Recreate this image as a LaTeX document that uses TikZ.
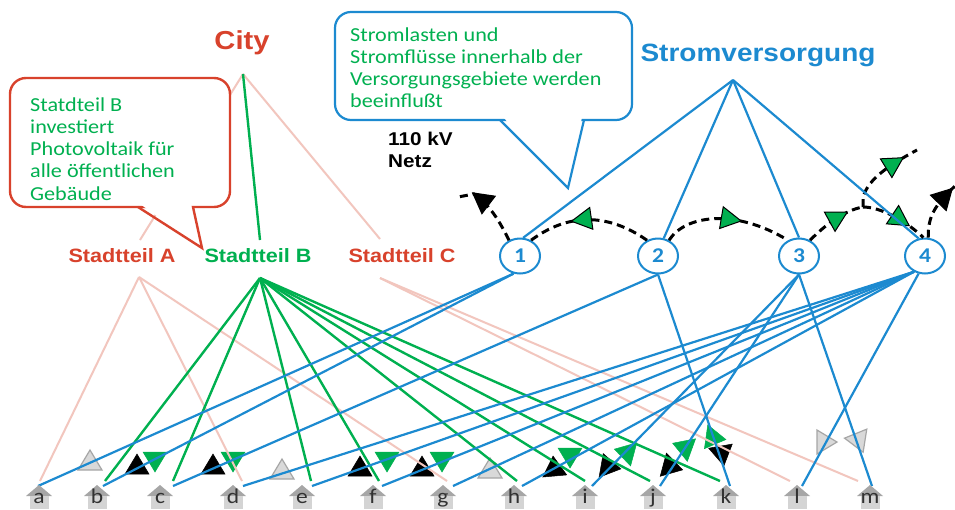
\documentclass[tikz,border=0pt]{standalone}
\usepackage{fontspec}
\setmainfont{Carlito}[FakeStretch=1.12]
\newfontfamily\headfont{Liberation Sans}[FakeStretch=1.12]
\usetikzlibrary{shapes.geometric, decorations.markings}

\definecolor{cityred}{RGB}{216,66,44}
\definecolor{pvgreen}{RGB}{0,176,80}
\definecolor{gridblue}{RGB}{28,138,208}
\definecolor{linkpink}{RGB}{242,198,190}
\definecolor{roofgrey}{RGB}{166,166,166}
\definecolor{bodygrey}{RGB}{212,212,212}
\definecolor{leafink}{RGB}{50,50,50}

% free-standing triangular flow marker: x, y, direction (deg), style
\newcommand\headmark[4]{\filldraw[#4, shift={(#1,#2)}, rotate=#3] (11pt,0pt) -- (-9pt,12pt) -- (-9pt,-12pt) -- cycle;}

\begin{document}
\begin{tikzpicture}[x=1pt, y=-1pt,
  pinkline/.style={linkpink, line width=2pt},
  greenline/.style={pvgreen, line width=2.4pt},
  blueline/.style={gridblue, line width=2.2pt},
  flow/.style={black, line width=3pt, dash pattern=on 8pt off 5pt},
  greenhead/.style={postaction={decorate}, decoration={markings,
      mark=at position #1 with {\filldraw[solid, fill=pvgreen, draw=black, line width=1pt, line join=miter]
        (5pt,0pt) -- (-15pt,11pt) -- (-15pt,-11pt) -- cycle;}}},
  blackhead/.style={postaction={decorate}, decoration={markings,
      mark=at position #1 with {\filldraw[solid, fill=black, draw=black, line width=1pt, line join=miter]
        (5pt,0pt) -- (-15pt,11pt) -- (-15pt,-11pt) -- cycle;}}},
  station/.style={ellipse, draw=gridblue, line width=2pt, fill=white,
      minimum width=40pt, minimum height=35pt, inner sep=0pt, text=gridblue,
      font=\fontsize{21}{21}\selectfont\bfseries},
  leaflabel/.style={font=\fontsize{21}{21}\selectfont, text=leafink, inner sep=0pt, anchor=base},
  headbig/.style={font=\headfont\bfseries\fontsize{26}{26}\selectfont, inner sep=0pt, anchor=base},
  headstrom/.style={font=\headfont\bfseries\fontsize{25}{25}\selectfont, inner sep=0pt, anchor=base},
  district/.style={font=\headfont\bfseries\fontsize{19.3}{20}\selectfont, inner sep=0pt, anchor=base},
  netlabel/.style={font=\headfont\bfseries\fontsize{18.5}{18.5}\selectfont, inner sep=0pt, anchor=base west},
  note/.style={font=\fontsize{19.8}{22.3}\selectfont, text=pvgreen, inner sep=0pt, anchor=base west},
  kfill/.style={fill=black, draw=black, line width=0.5pt},
  gfill/.style={fill=pvgreen, draw=pvgreen, line width=0.5pt},
  grfill/.style={fill=black!15, draw=black!35, line width=1.2pt}]

\useasboundingbox (0,0) rectangle (955,509);
\fill[white] (0,0) rectangle (955,509);

% ---- end points on the row of buildings
\foreach \n/\bx/\gx in {a/38/40, b/103/105, c/173/173, d/243/242, e/312/311,
    f/382/379, g/453/447, h/522/517, i/592/585, j/660/650, k/730/720,
    l/802/790, m/872/858}{
  \coordinate (\n-bl) at (\bx,486);
  \coordinate (\n-gr) at (\gx,481);
}

% ---- titles and districts
\node[headbig, text=cityred] (city) at (242,49) {City};
\node[headstrom, text=gridblue] (strom) at (758,61) {Stromversorgung};
\node[district, text=cityred] (sA) at (122,262) {Stadtteil A};
\node[district, text=pvgreen] (sB) at (258,262) {Stadtteil B};
\node[district, text=cityred] (sC) at (402,262) {Stadtteil C};
\node[netlabel] (net1) at (388,145) {110 kV};
\node[netlabel] (net2) at (388,167) {Netz};

\coordinate (cityT) at (243,74);
\coordinate (aTop) at (140,240);
\coordinate (aBot) at (139,277);
\coordinate (bTop) at (260,240);
\coordinate (bBot) at (260,278);
\coordinate (cTop) at (380,239);
\coordinate (cBot) at (380,278);
\coordinate (stromT) at (733,80);
\coordinate (jn) at (863,207);

% ---- substations
\node[station] (n1) at (520,256) {1};
\node[station] (n2) at (658,256) {2};
\node[station] (n3) at (799,256) {3};
\node[station] (n4) at (925,256) {4};

% ---- loose flow markers above the buildings
\headmark{90}{461}{90}{grfill}
\headmark{137}{465}{90}{kfill}
\headmark{155}{461}{-90}{gfill}
\headmark{213}{465}{90}{kfill}
\headmark{233}{461}{-90}{gfill}
\headmark{282}{470}{90}{grfill}
\headmark{360}{467}{90}{kfill}
\headmark{387}{461}{-90}{gfill}
\headmark{422}{467}{90}{kfill}
\headmark{442}{461}{-90}{gfill}
\headmark{490}{469}{90}{grfill}
\headmark{554}{467}{95}{kfill}
\headmark{570}{457}{-90}{gfill}
\headmark{610}{467}{-10}{kfill}
\headmark{625}{452}{165}{gfill}
\headmark{672}{467}{-15}{kfill}
\headmark{683}{447}{160}{gfill}
\headmark{722}{455}{-80}{kfill}
\headmark{715}{438}{-8}{gfill}
\headmark{826}{442}{0}{grfill}
\headmark{859}{442}{-68}{grfill}

% ---- city hierarchy
\draw[pinkline] (cityT) -- (aTop);
\draw[pinkline] (cityT) -- (cTop);
\draw[greenline] (cityT) -- (bTop);
\foreach \t in {a,d,g}{\draw[pinkline] (aBot) -- (\t-gr);}
\foreach \t in {l,m}{\draw[pinkline] (cBot) -- (\t-gr);}
\foreach \t in {b,c,e,f,h,i,j,k}{\draw[greenline] (bBot) -- (\t-gr);}

% ---- power flows between substations
\draw[flow, blackhead=0.74] (n1.125) .. controls (500,222) and (490,205) .. (474,194) -- (458,197);
\draw[flow, greenhead=0.6] (n2.125) .. controls (615,218) and (575,208) .. (n1.55);
\draw[flow, greenhead=0.57] (n2.55) .. controls (685,215) and (735,208) .. (n3.125);
\draw[flow, greenhead=0.66] (n3.55) .. controls (825,225) and (845,210) .. (jn);
\draw[flow, greenhead=0.75] (jn) -- (863,197) .. controls (868,182) and (880,170) .. (917,150);
\draw[flow, greenhead=0.66] (jn) .. controls (880,207) and (905,220) .. (n4.95);
\draw[flow, blackhead=0.8] (n4.80) .. controls (928,215) and (935,205) .. (958,183);

% ---- supply network
\draw[blueline] (stromT) -- (n1.80);
\draw[blueline] (stromT) -- (n2.72);
\draw[blueline] (stromT) -- (n3.90);
\draw[blueline] (stromT) -- (n4.110);
\foreach \t in {a,b}{\draw[blueline] (n1.250) -- (\t-bl);}
\foreach \t in {c,k}{\draw[blueline] (n2.south) -- (\t-bl);}
\foreach \t in {i,j,m}{\draw[blueline] (n3.south) -- (\t-bl);}
\foreach \t in {d,e,f,g,h}{\draw[blueline] (n4.235) -- (\t-bl);}
\draw[blueline] (n4.250) -- (l-bl);

% ---- buildings
\foreach \n/\x in {a/39, b/97, c/160, d/233, e/302, f/373, g/443, h/514,
    i/585, j/653, k/726, l/797, m/870}{
  \fill[roofgrey] (\x,485) -- (\x+13,496) -- (\x-13,496) -- cycle;
  \fill[bodygrey] (\x-9.5,496) rectangle (\x+9.5,509);
  \node[leaflabel] (leaf-\n) at (\x,503) {\n};
}

% ---- speech bubbles
\draw[cityred, line width=2.4pt, fill=white, rounded corners=16pt] (10,78) rectangle (230,207);
\fill[white] (140,204) -- (191,204) -- (202,248) -- cycle;
\draw[cityred, line width=2.4pt] (138,207) -- (202,248) -- (193,207);
\node[note] (noteB) at (30,111) {\vtop{\hbox{Statdteil B}\hbox{investiert}\hbox{Photovoltaik für}\hbox{alle öffentlichen}\hbox{Gebäude}}};

\draw[gridblue, line width=2.2pt, fill=white, rounded corners=16pt] (335,12) rectangle (632,120);
\fill[white] (503,117) -- (582,117) -- (568,188) -- cycle;
\draw[gridblue, line width=2.2pt] (500,120) -- (568,188) -- (584,120);
\node[note] (noteS) at (350,41) {\vtop{\hbox{Stromlasten und}\hbox{Stromflüsse innerhalb der}\hbox{Versorgungsgebiete werden}\hbox{beeinflußt}}};

\end{tikzpicture}
\end{document}
